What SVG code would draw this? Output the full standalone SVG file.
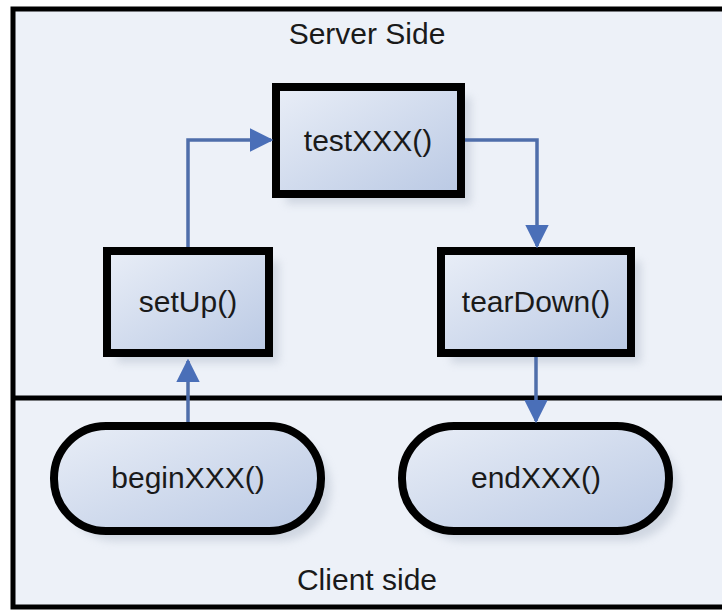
<svg xmlns="http://www.w3.org/2000/svg" width="722" height="611" viewBox="0 0 722 611">
  <defs>
    <linearGradient id="nodeFill" x1="0" y1="0" x2="1" y2="1">
      <stop offset="0" stop-color="#e9eef7"/>
      <stop offset="1" stop-color="#bac9e4"/>
    </linearGradient>
    <filter id="shadow" x="-20%" y="-20%" width="150%" height="150%">
      <feGaussianBlur stdDeviation="4"/>
    </filter>
    <marker id="arrow" viewBox="0 0 10 10" refX="9" refY="5" markerWidth="6.8" markerHeight="6.8" markerUnits="strokeWidth" orient="auto">
      <path d="M0,0 L10,5 L0,10 z" fill="#4a6fb8"/>
    </marker>
    <style>
      .node { fill: url(#nodeFill); stroke: #000; stroke-width: 8; }
      .shadow { fill: #9aa6b8; opacity: 0.35; filter: url(#shadow); }
      .label { font-family: "Liberation Sans", Arial, sans-serif; font-size: 30px; fill: #1a1a1a; text-anchor: middle; }
      .conn { fill: none; stroke: #4f6eaa; stroke-width: 3.5; marker-end: url(#arrow); }
    </style>
  </defs>

  <rect x="0" y="0" width="722" height="611" fill="#ffffff"/>
  <g id="frame">
    <rect x="13" y="9" width="714" height="598" fill="#edf1f8" stroke="#000" stroke-width="5"/>
    <line x1="13" y1="398" x2="722" y2="398" stroke="#000" stroke-width="5"/>
    <text class="label" x="367" y="44">Server Side</text>
    <text class="label" x="367" y="590">Client side</text>
  </g>

  <g id="testXXX">
    <rect class="shadow" x="286" y="97" width="185" height="107"/>
    <rect class="node" x="276" y="87" width="185" height="107"/>
    <text class="label" x="368" y="151">testXXX()</text>
  </g>
  <g id="setUp">
    <rect class="shadow" x="117" y="261" width="162" height="102"/>
    <rect class="node" x="107" y="251" width="162" height="102"/>
    <text class="label" x="188" y="312">setUp()</text>
  </g>
  <g id="tearDown">
    <rect class="shadow" x="451" y="261" width="190" height="102"/>
    <rect class="node" x="441" y="251" width="190" height="102"/>
    <text class="label" x="536" y="312">tearDown()</text>
  </g>
  <g id="beginXXX">
    <rect class="shadow" x="64" y="436" width="267" height="105" rx="52" ry="52"/>
    <rect class="node" x="54" y="426" width="267" height="105" rx="52" ry="52"/>
    <text class="label" x="188" y="488">beginXXX()</text>
  </g>
  <g id="endXXX">
    <rect class="shadow" x="412" y="436" width="267" height="105" rx="52" ry="52"/>
    <rect class="node" x="402" y="426" width="267" height="105" rx="52" ry="52"/>
    <text class="label" x="536" y="488">endXXX()</text>
  </g>

  <g id="connectors">
    <path class="conn" d="M188,422 L188,361"/>
    <path class="conn" d="M188,247 L188,140 L271,140"/>
    <path class="conn" d="M465,140 L537,140 L537,246"/>
    <path class="conn" d="M536,357 L536,421"/>
  </g>
</svg>
